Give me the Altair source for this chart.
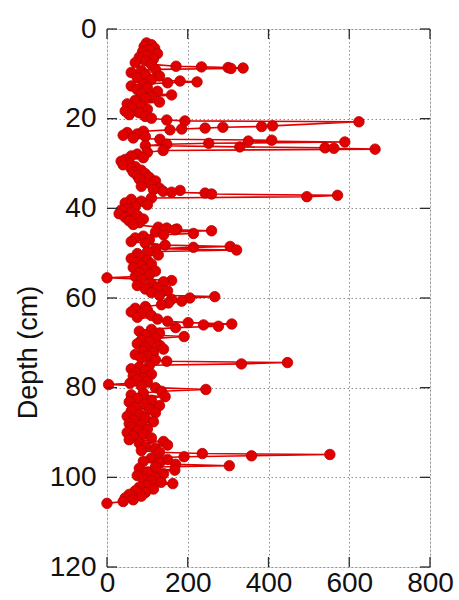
import altair as alt
import pandas as pd

# Depth profile: sample depth (cm) and measured value, listed top to bottom
depth = [
    3.1, 3.5, 3.9, 4.3, 4.7, 5.1, 5.5, 5.9, 6.3, 6.7, 7.1, 7.5, 7.9,
    8.3, 8.45, 8.6, 8.7, 8.8, 9.0,
    9.3, 9.7, 10.1, 10.5, 10.9, 11.3,
    11.6, 11.8, 12.0, 12.3,
    12.7, 13.1, 13.5, 13.9, 14.3, 14.7, 15.1, 15.5, 15.9, 16.3, 16.7, 17.1,
    17.5, 17.9, 18.3, 18.7, 19.1, 19.5, 19.9,
    20.3, 20.5, 20.7, 21.6, 21.75, 21.9, 22.1, 22.3, 22.5,
    22.8, 23.1, 23.4, 23.7, 24.0, 24.3,
    24.6, 24.8, 25.0, 25.2, 25.5, 25.7, 26.0, 26.3, 26.5, 26.6, 26.8, 27.1, 27.5,
    27.9, 28.3, 28.7, 29.1, 29.5, 29.9, 30.3, 30.7, 31.1, 31.5, 31.9, 32.3,
    32.7, 33.1, 33.5, 33.9, 34.3, 34.7, 35.1, 35.5,
    35.8, 36.0, 36.2, 36.4, 36.6, 36.8, 37.1, 37.4, 37.7,
    38.0, 38.4, 38.8, 39.2, 39.6, 40.0, 40.4, 40.8, 41.2, 41.6, 42.0, 42.4,
    42.8, 43.2, 43.6,
    44.2, 44.4, 44.6, 44.8, 45.0, 45.3, 45.6, 45.9, 46.2,
    46.6, 47.0, 47.4, 47.8,
    48.2, 48.5, 48.7, 49.0, 49.3, 49.7, 50.1, 50.4,
    50.8, 51.2, 51.6, 52.0, 52.4, 52.8, 53.2, 53.6, 54.0, 54.4, 54.8, 55.2,
    55.5, 55.8, 56.1, 56.4, 56.8,
    57.2, 57.6, 58.0, 58.4, 58.8,
    59.4, 59.7, 60.0, 60.3, 60.7, 61.1, 61.5, 61.9,
    62.3, 62.7, 63.1, 63.5, 63.9, 64.3, 64.7,
    65.2, 65.5, 65.8, 66.0, 66.3, 66.6, 67.0,
    67.4, 67.8, 68.2, 68.6, 69.0, 69.4, 69.8,
    70.2, 70.6, 71.0, 71.4, 71.8, 72.2, 72.6, 73.0, 73.4,
    73.8, 74.1, 74.4, 74.7, 75.0,
    75.4, 75.8, 76.2, 76.6, 77.0, 77.4, 77.8, 78.2, 78.6,
    79.0, 79.3, 79.6, 80.0,
    80.4, 80.8, 81.2,
    81.6, 82.0, 82.4, 82.8, 83.2, 83.6, 84.0, 84.4, 84.8, 85.2, 85.6, 86.0,
    86.4, 86.8, 87.2, 87.6, 88.0, 88.4, 88.8, 89.2, 89.6, 90.0, 90.4, 90.8,
    91.2, 91.6, 92.0, 92.4, 92.8, 93.2, 93.6, 94.0,
    94.4, 94.7, 94.9, 95.2, 95.4, 95.7,
    96.0, 96.4, 96.8, 97.1, 97.4, 97.7,
    98.0, 98.4, 98.8, 99.2, 99.6, 100.0, 100.4,
    100.8, 101.1, 101.4, 101.8, 102.2, 102.6, 103.0, 103.4, 103.8, 104.2,
    104.6, 105.0, 105.4, 105.8,
]

value = [
    98, 110, 92, 118, 105, 88, 125, 100, 80, 115, 95, 70, 110,
    171, 234, 300, 337, 307, 120,
    85, 60, 95, 130, 75, 110,
    181, 223, 150, 90,
    60, 100, 75, 125, 85, 160, 110, 95, 70, 130, 50, 85,
    60, 100, 45, 80, 55, 95, 110,
    148, 193, 624, 410, 383, 287, 243, 185, 156,
    90, 50, 75, 40, 95, 65,
    131, 408, 350, 589, 252, 148, 95, 329, 540, 562, 664, 139, 100,
    75, 60, 90, 45, 35, 55, 40, 70, 60, 85, 65, 95,
    75, 105, 80, 120, 90, 110, 85, 130,
    115, 181, 139, 160, 243, 259, 571, 495, 110,
    60, 85, 45, 100, 70, 50, 35, 60, 30, 75, 45, 90,
    55, 80, 65,
    127, 148, 173, 168, 259, 120, 214, 140, 90,
    70, 105, 60, 95,
    144, 305, 214, 120, 321, 100, 75, 127,
    80, 60, 100, 75, 110, 85, 65, 95, 120, 80, 105, 70,
    0, 86, 160, 140, 110,
    75, 125, 95, 150, 110,
    130, 267, 205, 160, 185, 152, 135, 95,
    70, 100, 60, 85, 110, 75, 125,
    150, 201, 309, 239, 276, 170, 110,
    80, 130, 95, 191, 120, 85, 105,
    75, 131, 95, 140, 90, 115, 70, 100, 85,
    120, 148, 447, 333, 105,
    80, 60, 95, 70, 110, 65, 90, 75, 100,
    57, 4, 85, 120,
    245, 135, 90,
    60, 144, 75, 110, 55, 95, 130, 70, 105, 60, 120, 80,
    50, 95, 65, 115, 55, 85, 60, 100, 75, 50, 90, 65,
    110, 55, 140, 80, 150, 95, 120, 85,
    130, 236, 552, 358, 191, 110,
    150, 90, 130, 170, 303, 120,
    80, 168, 100, 140, 75, 120, 90,
    110, 134, 163, 100, 80, 115, 70, 95, 55, 85,
    45, 65, 40, 0,
]

x_ticks = [0, 200, 400, 600, 800]
y_ticks = [0, 20, 40, 60, 80, 100, 120]

W, H = 323, 538
RED = "#e00000"
FRAME = "#2b2b2b"
FONT = "Liberation Sans"
GRID = dict(grid=True, gridColor="#8c8c8c", gridDash=[1.5, 2.5], gridWidth=1)

profile = pd.DataFrame({"depth": depth, "value": value})
xt = pd.DataFrame({"value": x_ticks})
yt = pd.DataFrame({"depth": y_ticks})

x_scale = alt.Scale(domain=[0, 800], nice=False)
y_scale = alt.Scale(domain=[0, 120], reverse=True, nice=False)

x_axis = alt.Axis(
    values=x_ticks, title=None, ticks=False, tickSize=0,
    domain=False, labelFlush=False, labelOverlap=False,
    labelFontSize=28, labelPadding=2, labelColor="#111111",
    labelFont=FONT, **GRID,
)
y_axis = alt.Axis(
    values=y_ticks, title="Depth (cm)", ticks=False, tickSize=0,
    domain=False, labelFontSize=28, labelPadding=11, labelColor="#111111",
    labelFont=FONT, titleFont=FONT, titleFontSize=27,
    titleFontWeight="normal", titleColor="#111111", titlePadding=7,
    titleY=323, **GRID,
)

x_enc = alt.X("value:Q", scale=x_scale, axis=x_axis)
y_enc = alt.Y("depth:Q", scale=y_scale, axis=y_axis)

line = alt.Chart(profile).mark_line(color=RED, strokeWidth=1.6).encode(
    x=x_enc, y=y_enc, order=alt.Order("depth:Q")
)
points = alt.Chart(profile).mark_point(
    shape="circle", filled=True, fill=RED, stroke="#b80000",
    strokeWidth=0.8, size=110, opacity=1,
).encode(x=x_enc, y=y_enc)

# inward-pointing tick marks on all four sides of the frame
tick_style = dict(color=FRAME, strokeWidth=1.3)
bottom_ticks = alt.Chart(xt).mark_rule(**tick_style).encode(
    x=x_enc, y=alt.value(H), y2=alt.value(H - 10),
)
top_ticks = alt.Chart(xt).mark_rule(**tick_style).encode(
    x=x_enc, y=alt.value(0), y2=alt.value(10),
)
left_ticks = alt.Chart(yt).mark_rule(**tick_style).encode(
    y=y_enc, x=alt.value(0), x2=alt.value(10),
)
right_ticks = alt.Chart(yt).mark_rule(**tick_style).encode(
    y=y_enc, x=alt.value(W), x2=alt.value(W - 10),
)

chart = (
    alt.layer(line, points, bottom_ticks, top_ticks, left_ticks, right_ticks)
    .properties(
        width=W, height=H,
        autosize=alt.AutoSizeParams(type="none"),
        padding={"left": 107, "top": 29, "right": 29, "bottom": 33},
    )
    .configure_view(stroke=FRAME, strokeWidth=1.5)
    .configure(background="white")
)

chart.save("out.html", embed_options={"renderer": "svg", "actions": False})
